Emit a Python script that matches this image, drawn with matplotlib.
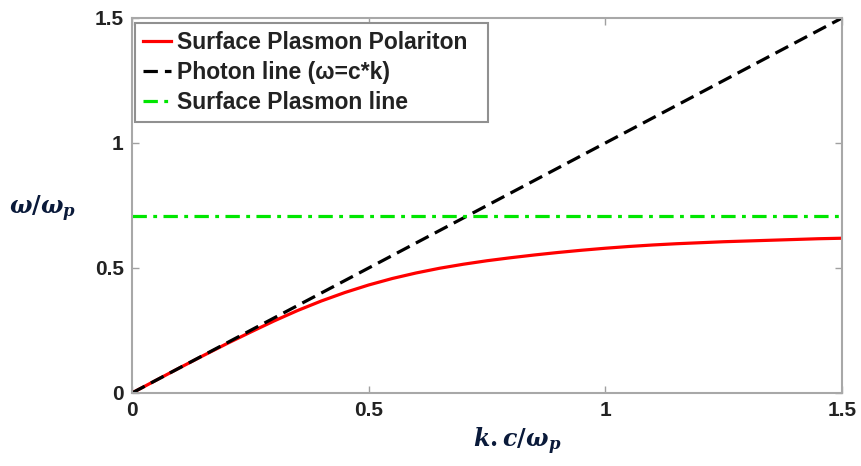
import numpy as np
import matplotlib
matplotlib.use("Agg")
import matplotlib.pyplot as plt

plt.rcParams['font.family'] = ['Liberation Sans', 'DejaVu Sans']
plt.rcParams['mathtext.fontset'] = 'custom'
plt.rcParams['mathtext.it'] = 'DejaVu Serif:italic:bold'
plt.rcParams['mathtext.rm'] = 'DejaVu Serif:bold'

# surface plasmon polariton branch, k*c/wp vs w/wp
k_spp = [0.0, 0.05, 0.1, 0.15, 0.2, 0.25, 0.3, 0.35, 0.4, 0.45, 0.5, 0.55,
         0.6, 0.65, 0.7, 0.75, 0.8, 0.85, 0.9, 0.95, 1.0, 1.05, 1.1, 1.15,
         1.2, 1.25, 1.3, 1.35, 1.4, 1.45, 1.5]
w_spp = [0.0, 0.050, 0.100, 0.149, 0.197, 0.243, 0.288, 0.330, 0.368, 0.402,
         0.432, 0.458, 0.480, 0.499, 0.515, 0.529, 0.541, 0.552, 0.562, 0.571,
         0.579, 0.586, 0.592, 0.597, 0.601, 0.605, 0.608, 0.611, 0.614, 0.617,
         0.619]

# light line w = c*k
k_light = [0.0, 1.5]
w_light = [0.0, 1.5]

# surface plasmon frequency wp/sqrt(2)
w_sp = 0.707
k_range = [0.0, 1.5]

fig = plt.figure(figsize=(8.61, 4.66), dpi=100)
ax = fig.add_axes([0.1533, 0.1567, 0.8247, 0.8047])

ax.plot(k_spp, w_spp, color='#ff0000', lw=2.3, label='Surface Plasmon Polariton')
ax.plot(k_light, w_light, color='black', lw=2.3, dashes=(4.5, 2.2),
        label='Photon line (\u03c9=c*k)')
ax.plot(k_range, [w_sp, w_sp], color='#00e600', lw=2.3, dashes=(4.5, 2.0, 1.2, 2.0),
        label='Surface Plasmon line')

ax.set_xlim(0, 1.5)
ax.set_ylim(0, 1.5)
ax.set_xticks([0, 0.5, 1, 1.5])
ax.set_yticks([0, 0.5, 1, 1.5])
ax.set_xticklabels(['0', '0.5', '1', '1.5'])
ax.set_yticklabels(['0', '0.5', '1', '1.5'])
ax.tick_params(direction='in', length=5, width=1, color='#a0a0a0',
               top=True, right=True, labelsize=15, pad=6)
for lab in ax.get_xticklabels() + ax.get_yticklabels():
    lab.set_fontweight('bold')
    lab.set_color('#222222')
for sp in ax.spines.values():
    sp.set_color('#a8a8a8')
    sp.set_linewidth(1.5)

# legend box stretched wider than its text, like the MATLAB one
leg = ax.legend(loc='upper left', bbox_to_anchor=(0.004, 0.5, 0.497, 0.487),
                mode='expand', prop={'weight': 'bold', 'size': 16.5},
                handlelength=1.25, handletextpad=0.25, labelspacing=0.3,
                borderpad=0.35, borderaxespad=0.0, fancybox=False, framealpha=1)
leg.get_frame().set_edgecolor('#909090')
leg.get_frame().set_linewidth(1.5)
for t in leg.get_texts():
    t.set_color('#222222')

fig.text(0.049, 0.553, r'$\omega/\omega_p$', fontsize=17, color='#0a1a3a',
         ha='center', va='center')
fig.text(0.601, 0.052, r'$k.c/\omega_p$', fontsize=17, color='#0a1a3a',
         ha='center', va='center')

fig.savefig('out.png', dpi=100)
